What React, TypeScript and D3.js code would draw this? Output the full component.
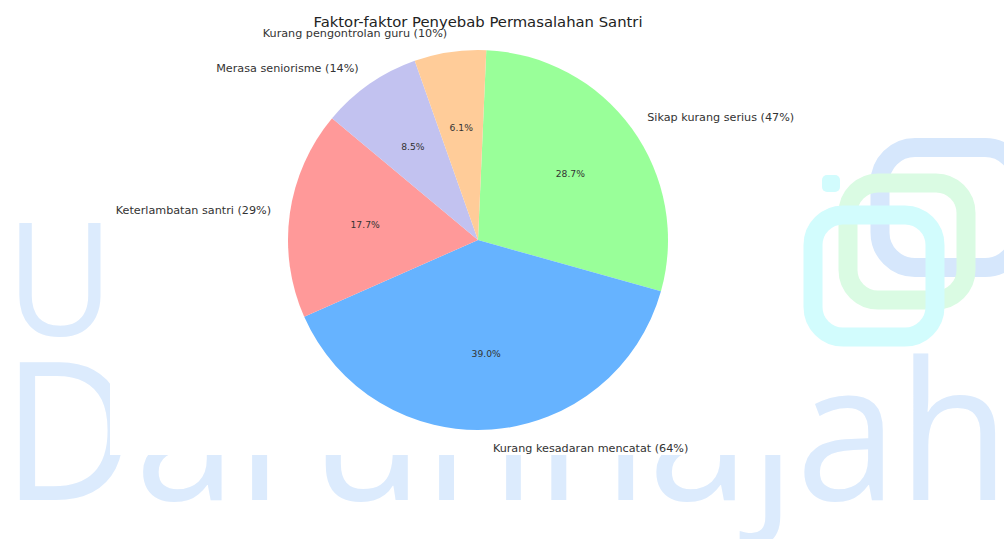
import React from 'react';
import * as d3 from 'd3';

// ---- data (clockwise from 12 o'clock) ----
const categories: string[] = [
  'Sikap kurang serius',
  'Kurang kesadaran mencatat',
  'Keterlambatan santri',
  'Merasa seniorisme',
  'Kurang pengontrolan guru',
];
const values: number[] = [47, 64, 29, 14, 10];
const colors: string[] = ['#99ff99', '#66b3ff', '#ff9999', '#c2c2f0', '#ffcc99'];
const title = 'Faktor-faktor Penyebab Permasalahan Santri';
const watermarkTop = 'U';
const watermarkBottom = 'Darunnajah';

const W = 1004;
const H = 539;
const CX = 478;
const CY = 240;
const R = 190;
const START = (2.5 * Math.PI) / 180;
const FONT = "'DejaVu Sans', Verdana, sans-serif";

export default function App() {
  const rows = categories.map((c, i) => ({ name: c, value: values[i], color: colors[i] }));
  const total = d3.sum(values);
  const pie = d3
    .pie<{ name: string; value: number; color: string }>()
    .sort(null)
    .value((d) => d.value)
    .startAngle(START)
    .endAngle(START + 2 * Math.PI);
  const arcs = pie(rows);
  const arcGen = d3
    .arc<d3.PieArcDatum<{ name: string; value: number; color: string }>>()
    .innerRadius(0)
    .outerRadius(R);

  const wmFont = "'Open Sans', 'Noto Sans', sans-serif";
  const wmColor = '#dcebfd';

  return (
    <svg
      width={W}
      height={H}
      style={{ position: 'absolute', left: 0, top: 0, display: 'block', background: '#ffffff' }}
    >
      {/* background watermark */}
      <g>
        <text
          x={6}
          y={335}
          fontFamily={wmFont}
          fontWeight={400}
          fontSize={158}
          fill={wmColor}
          textLength={108}
          lengthAdjust="spacingAndGlyphs"
        >
          {watermarkTop}
        </text>
        <text
          x={2}
          y={500}
          fontFamily={wmFont}
          fontWeight={400}
          fontSize={193}
          fill={wmColor}
          textLength={1008}
          lengthAdjust="spacingAndGlyphs"
        >
          {watermarkBottom}
        </text>
        <g fill="none" strokeWidth={19}>
          <rect x={880} y={147.5} width={140} height={120} rx={35} stroke="#d6e7fc" />
          <rect x={848} y={183} width={118} height={117} rx={30} stroke="#dafbe3" />
          <rect x={813} y={215} width={122} height={122} rx={30} stroke="#d2fcfd" />
        </g>
        <rect x={822} y={175} width={18} height={17} rx={5} fill="#d2fcfd" />
      </g>

      {/* chart image area */}
      <rect x={110} y={0} width={693} height={455} fill="#ffffff" />

      <text
        x={CX}
        y={27}
        textAnchor="middle"
        fontFamily={FONT}
        fontSize={14.8}
        fill="#222"
      >
        {title}
      </text>

      <g transform={`translate(${CX},${CY})`}>
        {arcs.map((a, i) => (
          <path key={i} d={arcGen(a) || ''} fill={a.data.color} />
        ))}
        {arcs.map((a, i) => {
          const mid = (a.startAngle + a.endAngle) / 2;
          const lx = 1.1 * R * Math.sin(mid);
          const ly = -1.1 * R * Math.cos(mid);
          const px = 0.6 * R * Math.sin(mid);
          const py = -0.6 * R * Math.cos(mid);
          return (
            <g key={'l' + i}>
              <text
                x={lx}
                y={ly}
                textAnchor={lx > 0 ? 'start' : 'end'}
                dominantBaseline="central"
                fontFamily={FONT}
                fontSize={11.2}
                fill="#333"
              >
                {`${a.data.name} (${a.data.value}%)`}
              </text>
              <text
                x={px}
                y={py}
                textAnchor="middle"
                dominantBaseline="central"
                fontFamily={FONT}
                fontSize={9.2}
                fill="#333"
              >
                {`${((a.data.value / total) * 100).toFixed(1)}%`}
              </text>
            </g>
          );
        })}
      </g>
    </svg>
  );
}
